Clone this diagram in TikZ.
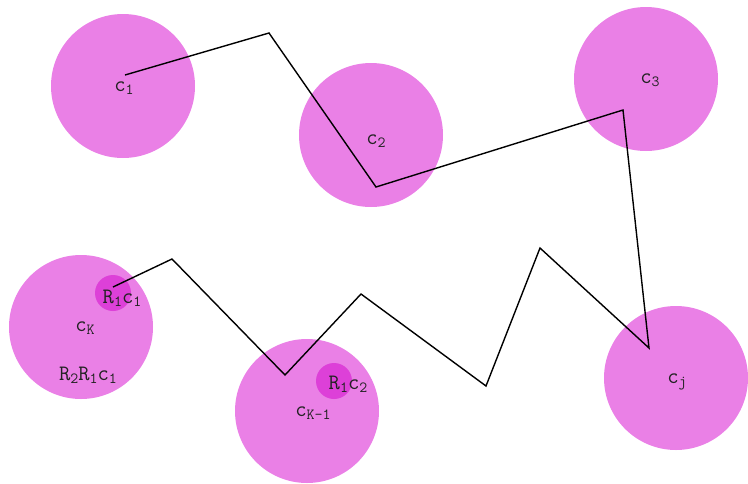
\documentclass[tikz,border=0pt]{standalone}
\usepackage{fontspec}
\definecolor{bigc}{HTML}{EA80E6}
\definecolor{smallc}{HTML}{DD40D8}
\definecolor{txt}{HTML}{222222}
\newcommand{\sbs}[1]{\raisebox{-0.35ex}{\fontsize{15.5}{15.5}\selectfont #1}}
\begin{document}
\begin{tikzpicture}[x=1pt,y=-1pt,
  bigcircle/.style={circle,fill=bigc,minimum size=144pt,inner sep=0pt},
  smallcircle/.style={circle,fill=smallc,minimum size=36pt,inner sep=0pt},
  lbl/.style={text=txt,font=\ttfamily\fontsize{22}{22}\selectfont,inner sep=0pt},
  path/.style={line width=1.4pt,black,line join=miter}]
\useasboundingbox (0,0) rectangle (748,483);
\node[bigcircle] (C1) at (123,86) {};
\node[bigcircle] (C2) at (371,135) {};
\node[bigcircle] (C3) at (646,79) {};
\node[bigcircle] (CK) at (81,327) {};
\node[bigcircle] (CK1) at (307,411) {};
\node[bigcircle] (CJ) at (676,378) {};
\node[smallcircle] (S1) at (113,293) {};
\node[smallcircle] (S2) at (334,381) {};
\node[lbl] (L1) at (124,88) {c\sbs{1}};
\node[lbl] (L2) at (376,141) {c\sbs{2}};
\node[lbl] (L3) at (650,80) {c\sbs{3}};
\node[lbl] (LK) at (85,328) {c\sbs{K}};
\node[lbl] (LR2) at (88,375) {R\sbs{2}R\sbs{1}c\sbs{1}};
\node[lbl] (LR1) at (122,298) {R\sbs{1}c\sbs{1}};
\node[lbl] (LK1) at (313,413) {c\sbs{K-1}};
\node[lbl] (LR1c2) at (348,384) {R\sbs{1}c\sbs{2}};
\node[lbl] (LJ) at (677,382) {c\sbs{j}};
\coordinate (p0) at (125,75);
\coordinate (p1) at (269,33);
\coordinate (p2) at (376,187);
\coordinate (p3) at (623,110);
\coordinate (p4) at (649,348);
\coordinate (p5) at (540,248);
\coordinate (p6) at (486,386);
\coordinate (p7) at (361,294);
\coordinate (p8) at (285,375);
\coordinate (p9) at (172,259);
\coordinate (p10) at (113,287);
\draw[path] (p0) -- (p1) -- (p2) -- (p3) -- (p4) -- (p5) -- (p6) -- (p7) -- (p8) -- (p9) -- (p10);
\end{tikzpicture}
\end{document}
